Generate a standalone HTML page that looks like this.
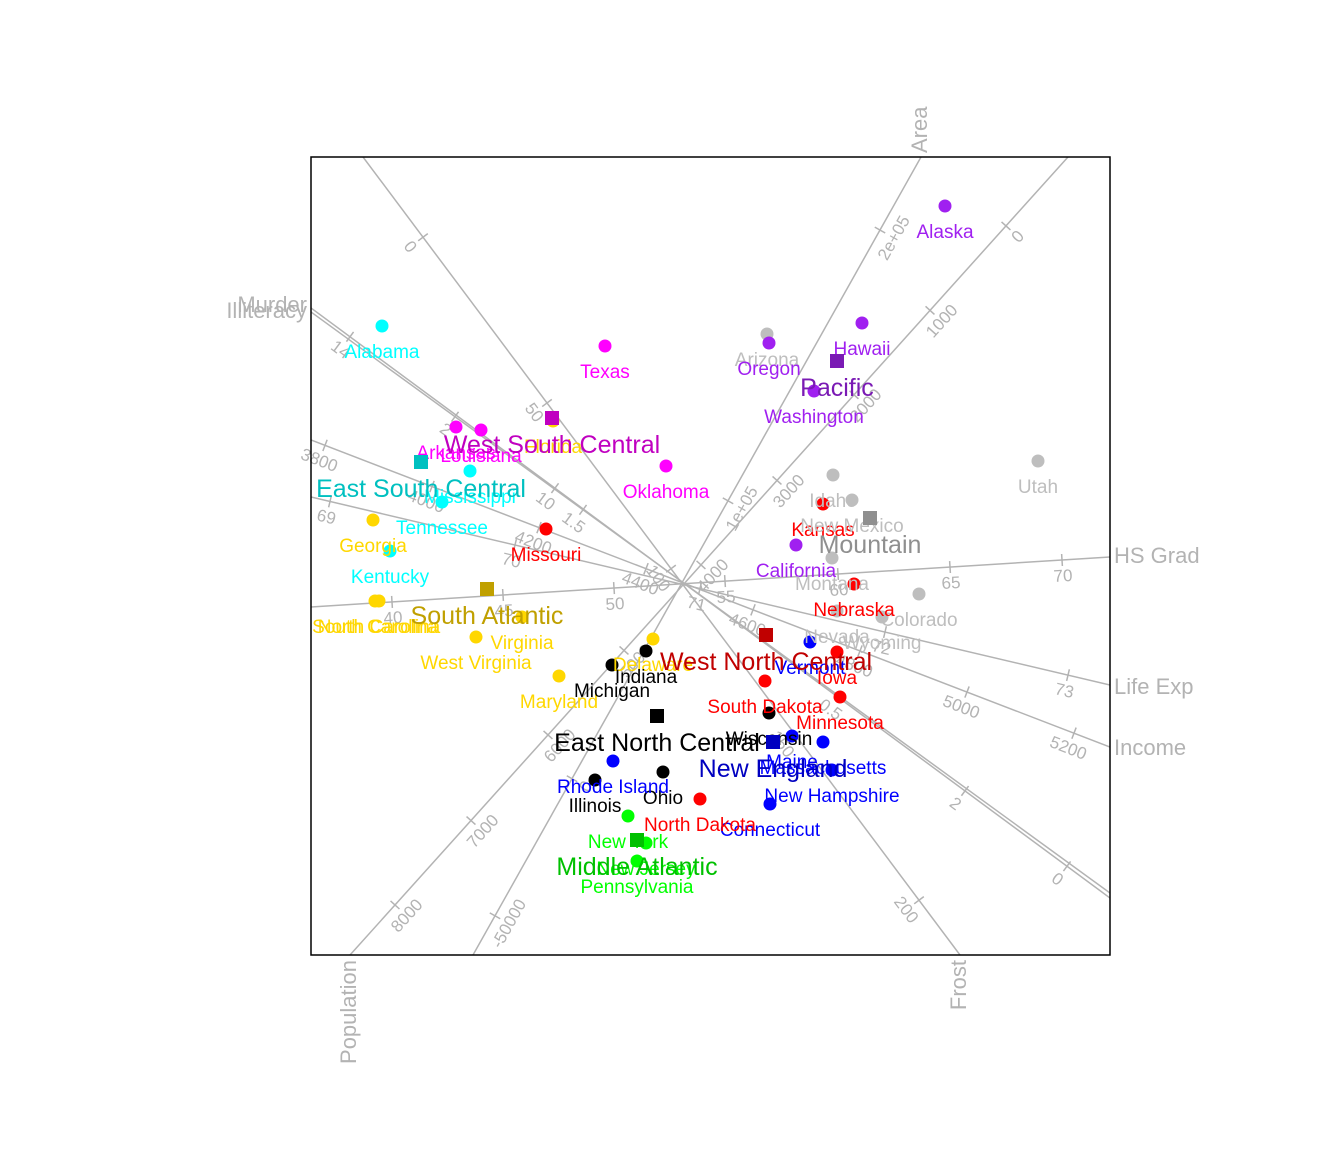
<!DOCTYPE html>
<html><head><meta charset="utf-8"><style>
html,body{margin:0;padding:0;background:#fff}
svg{display:block}
text{font-family:"Liberation Sans",sans-serif}
</style></head><body>
<svg id="chart" width="1344" height="1152" viewBox="0 0 1344 1152"></svg>
<script>
const stateNames=["Alabama","Alaska","Arizona","Arkansas","California","Colorado","Connecticut","Delaware","Florida","Georgia","Hawaii","Idaho","Illinois","Indiana","Iowa","Kansas","Kentucky","Louisiana","Maine","Maryland","Massachusetts","Michigan","Minnesota","Mississippi","Missouri","Montana","Nebraska","Nevada","New Hampshire","New Jersey","New Mexico","New York","North Carolina","North Dakota","Ohio","Oklahoma","Oregon","Pennsylvania","Rhode Island","South Carolina","South Dakota","Tennessee","Texas","Utah","Vermont","Virginia","Washington","West Virginia","Wisconsin","Wyoming"];
const stateX=[71,634,456,145,485,608,459,342,242,62,551,522,284,335,526,512,79,170,481,248,512,301,529,159,235,521,543,526,521,335,541,317,68,389,352,355,458,326,302,64,454,131,294,727,499,211,503,165,458,571];
const stateY=[629,749,621,528,410,361,151,316,534,435,632,480,175,304,303,451,404,525,219,279,213,290,258,484,426,397,371,344,185,112,455,139,354,156,183,489,612,94,194,354,274,453,609,494,313,338,564,318,242,338];
const stateRegion=[3,8,7,4,8,7,0,2,2,2,8,7,5,5,6,6,3,4,0,2,0,5,6,3,6,7,6,7,0,1,7,1,2,6,5,4,8,1,0,2,6,3,4,7,0,2,8,2,5,7];
const regionNames=["New England","Middle Atlantic","South Atlantic","East South Central","West South Central","East North Central","West North Central","Mountain","Pacific"];
const regionX=[462,326,176,110,241,346,455,559,526];
const regionY=[213,115,366,493,537,239,320,437,594];
const pointColors=["#0000FF","#00FF00","#FFD700","#00FFFF","#FF00FF","#000000","#FF0000","#BEBEBE","#A020F0"];
const centroidColors=["#0000C0","#00C000","#C0A000","#00C0C0","#C000C0","#000000","#C00000","#8F8F8F","#7A1AB4"];

const X0=311,Y0=955;
function sx(v){return X0+v;}
function sy(v){return Y0-v;}
const NS="http://www.w3.org/2000/svg";
const svg=document.getElementById('chart');
function mk(tag,attrs,parent){const e=document.createElementNS(NS,tag);for(const k in attrs)e.setAttribute(k,attrs[k]);(parent||svg).appendChild(e);return e;}

const axes=[
 ["Area",473,955,921,157,921,153,"start",-90],
 ["Population",350,955,1068,157,350,960,"end",-90],
 ["Frost",960,955,363,157,960,960,"end",-90],
 ["Murder",311,308,1110,898,307,306,"end",0],
 ["Illiteracy",311,312,1110,893,307,312,"end",0],
 ["HS Grad",311,607,1110,557,1114,557,"start",0],
 ["Life Exp",311,497,1110,685,1114,688,"start",0],
 ["Income",311,440,1110,747,1114,749,"start",0]
];
const ticks=[
 [0,495,"-50000",1],[0,572,"0",1],[0,728,"1e+05",1],[0,880,"2e+05",1],
 [1,1006,"0",1],[1,930,"1000",1],[1,854,"2000",1],[1,777,"3000",1],[1,701,"4000",1],[1,624,"5000",1],[1,548,"6000",1],[1,471,"7000",1],[1,395,"8000",1],
 [2,423,"0",1],[2,547,"50",1],[2,671,"100",1],[2,795,"150",1],[2,919,"200",1],
 [3,350,"14",1],[3,555,"10",1],[3,965,"2",1],[3,1067,"0",1],
 [4,455,"2",1],[4,583,"1.5",1],[4,840,"0.5",1],
 [5,392,"40",1],[5,503,"45",1],[5,614,"50",1],[5,725,"55",1],[5,838,"60",1],[5,950,"65",1],[5,1062,"70",1],
 [6,330,"69",1],[6,515,"70",1],[6,700,"71",1],[6,885,"72",1],[6,1068,"73",1],
 [7,325,"3800",1],[7,432,"4000",1],[7,539,"4200",1],[7,646,"4400",1],[7,753,"4600",1],[7,860,"4800",1],[7,967,"5000",1],[7,1074,"5200",1]
];
const grey="#B3B3B3";
const clip=mk('clipPath',{id:'pc'});mk('rect',{x:311,y:157,width:799,height:798},clip);
const axG=mk('g',{'clip-path':'url(#pc)'});
axes.forEach((a,i)=>{
  const l=mk('line',{x1:a[1],y1:a[2],x2:a[3],y2:a[4],stroke:grey,'stroke-width':1.5},axG);
  
  
  const t=mk('text',{x:a[5],y:a[6],'font-size':22,fill:grey,'text-anchor':a[7],'dominant-baseline':'middle',transform:a[8]?`rotate(${a[8]} ${a[5]} ${a[6]})`:''});
  t.textContent=a[0];
  
  
});
ticks.forEach(tk=>{
  const a=axes[tk[0]];
  const dx=a[3]-a[1],dy=a[4]-a[2],len=Math.hypot(dx,dy);
  const ux=dx/len,uy=dy/len;
  const px=tk[1],py=a[2]+(px-a[1])*dy/dx;
  let nx=-uy,ny=ux;
  if(ny<0){nx=-nx;ny=-ny;}
  // labels on the lower side (positive y normal) of each axis
  const m=mk('line',{x1:px-nx*6,y1:py-ny*6,x2:px+nx*6,y2:py+ny*6,stroke:grey,'stroke-width':1.5},axG);
  
  
  let ang=Math.atan2(dy,dx)*180/Math.PI;
  if(ang>90)ang-=180; if(ang<-90)ang+=180;
  const lx=px+nx*17*tk[3],ly=py+ny*17*tk[3];
  const t=mk('text',{x:lx,y:ly,'font-size':17,fill:grey,'text-anchor':'middle','dominant-baseline':'middle',transform:`rotate(${ang} ${lx} ${ly})`});
  t.textContent=tk[2];
  
  
});
const frame=mk('rect',{x:311,y:157,width:799,height:798,fill:'none',stroke:'#000','stroke-width':1.5});



stateNames.forEach((n,i)=>{
  const c=mk('circle',{cx:sx(stateX[i]),cy:sy(stateY[i]),r:6.5,fill:pointColors[stateRegion[i]]});
  
  
});
stateNames.forEach((n,i)=>{
  const t=mk('text',{x:sx(stateX[i]),y:sy(stateY[i])+32,'font-size':19,fill:pointColors[stateRegion[i]],'text-anchor':'middle'});
  t.textContent=n;
  
  
});
regionNames.forEach((n,i)=>{
  const r=mk('rect',{x:sx(regionX[i])-7,y:sy(regionY[i])-7,width:14,height:14,fill:centroidColors[i]});
  
  
  const t=mk('text',{x:sx(regionX[i]),y:sy(regionY[i])+35,'font-size':25,fill:centroidColors[i],'text-anchor':'middle'});
  t.textContent=n;
  
  
});
</script>
</body></html>
